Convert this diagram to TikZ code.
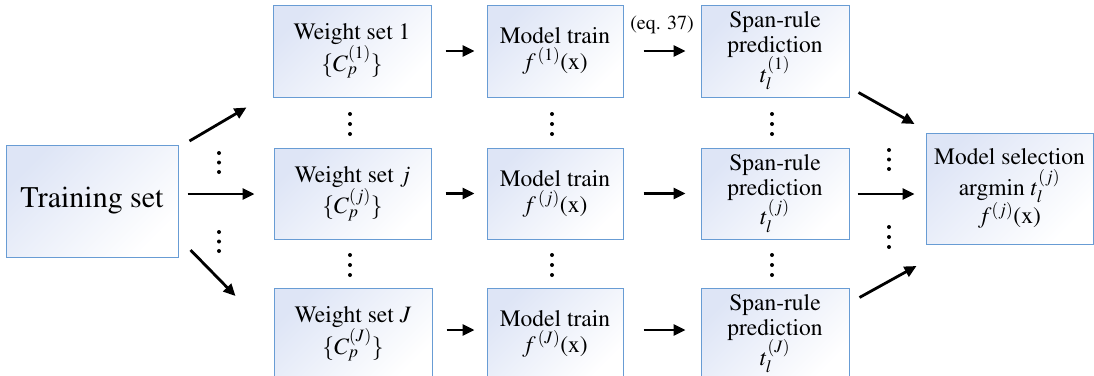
\documentclass[tikz,border=0pt]{standalone}
\usepackage[T1]{fontenc}
\usepackage{mathptmx}
\usetikzlibrary{arrows.meta,calc}
\definecolor{boxedge}{RGB}{104,156,212}
\definecolor{boxtint}{RGB}{222,229,246}
\tikzset{
  box/.style={draw=boxedge, line width=1pt, top color=boxtint, bottom color=white,
    shading angle=45, inner sep=0pt, align=center, font=\fontsize{23.5}{26}\selectfont},
  arr/.style={line width=2.8pt, -{Triangle[length=12pt,width=11pt]}},
  dotmark/.style={fill=black}
}
\newcommand\threedots[3]{%
  \fill[dotmark] (#1,#2) circle (2);
  \fill[dotmark] ($(#1,#2)!0.5!(#1,#3)$) circle (2);
  \fill[dotmark] (#1,#3) circle (2);}
\begin{document}
\begin{tikzpicture}[x=1pt,y=-1pt]
\useasboundingbox (0,0) rectangle (1094,375);
% boxes
\node[box, minimum width=172, minimum height=112, font=\fontsize{30}{34}\selectfont] (train) at (92,201) {Training set};
\node[box, minimum width=158, minimum height=92] (ws1) at (352,51) {Weight set 1\\$\{C_p^{(1)}\}$};
\node[box, minimum width=157, minimum height=91] (wsj) at (352.5,193.5) {Weight set $j$\\$\{C_p^{(j)}\}$};
\node[box, minimum width=158, minimum height=92] (wsJ) at (353,334) {Weight set $J$\\$\{C_p^{(J)}\}$};
\node[box, minimum width=136, minimum height=92] (mt1) at (555,51) {Model train\\$f^{\,(1)}$(x)};
\node[box, minimum width=136, minimum height=91] (mtj) at (555,193.5) {Model train\\$f^{\,(j)}$(x)};
\node[box, minimum width=136, minimum height=92] (mtJ) at (555,334) {Model train\\$f^{\,(J)}$(x)};
\node[box, minimum width=148, minimum height=92] (sp1) at (775,51) {Span-rule\\[-1pt]prediction\\[-2pt]$t_l^{(1)}$};
\node[box, minimum width=148, minimum height=91] (spj) at (775,193.5) {Span-rule\\[-1pt]prediction\\[-2pt]$t_l^{(j)}$};
\node[box, minimum width=148, minimum height=92] (spJ) at (775,334) {Span-rule\\[-1pt]prediction\\[-2pt]$t_l^{(J)}$};
\node[box, minimum width=167, minimum height=111] (sel) at (1009.5,188.5) {Model selection\\[5pt]argmin $t_l^{(j)}$\\[-2pt]$f^{(j)}$(x)};
% label
\node[font=\fontsize{20}{22}\selectfont, inner sep=0pt] (eq) at (662,25) {(eq. 37)};
% arrows from training set
\draw[arr] ([shift={(11,-60)}]train.east) -- ([shift={(-26,10)}]ws1.south west);
\draw[arr] ([shift={(9,-7)}]train.east) -- ([shift={(-19,0.5)}]wsj.west);
\draw[arr] ([shift={(12,49)}]train.east) -- ([shift={(-38,-38)}]wsJ.west);
% weight -> model
\draw[arr] ([shift={(14,0)}]ws1.east) -- ([shift={(-12,0)}]mt1.west);
\draw[arr] ([shift={(14,0)}]wsj.east) -- ([shift={(-12,0)}]mtj.west);
\draw[arr] ([shift={(14,-4)}]wsJ.east) -- ([shift={(-12,-4)}]mtJ.west);
% model -> span
\draw[arr] ([shift={(20,0)}]mt1.east) -- ([shift={(-15,0)}]sp1.west);
\draw[arr] ([shift={(20,0)}]mtj.east) -- ([shift={(-15,0)}]spj.west);
\draw[arr] ([shift={(20,-4)}]mtJ.east) -- ([shift={(-15,-4)}]spJ.west);
% span -> selection
\draw[arr] ([shift={(9,-5)}]sp1.south east) -- ([shift={(-11,-64.5)}]sel.west);
\draw[arr] ([shift={(8,0.5)}]spj.east) -- ([shift={(-11,5.5)}]sel.west);
\draw[arr] ([shift={(10,10)}]spJ.north east) -- ([shift={(-9,77.5)}]sel.west);
% dots
\threedots{219}{153}{172}
\threedots{219}{232}{251}
\threedots{350}{114}{134}
\threedots{350}{255}{275}
\threedots{552}{114}{134}
\threedots{552}{255}{275}
\threedots{772}{114}{134}
\threedots{772}{255}{275}
\threedots{889}{150}{169}
\threedots{889}{227}{247}
\end{tikzpicture}
\end{document}
